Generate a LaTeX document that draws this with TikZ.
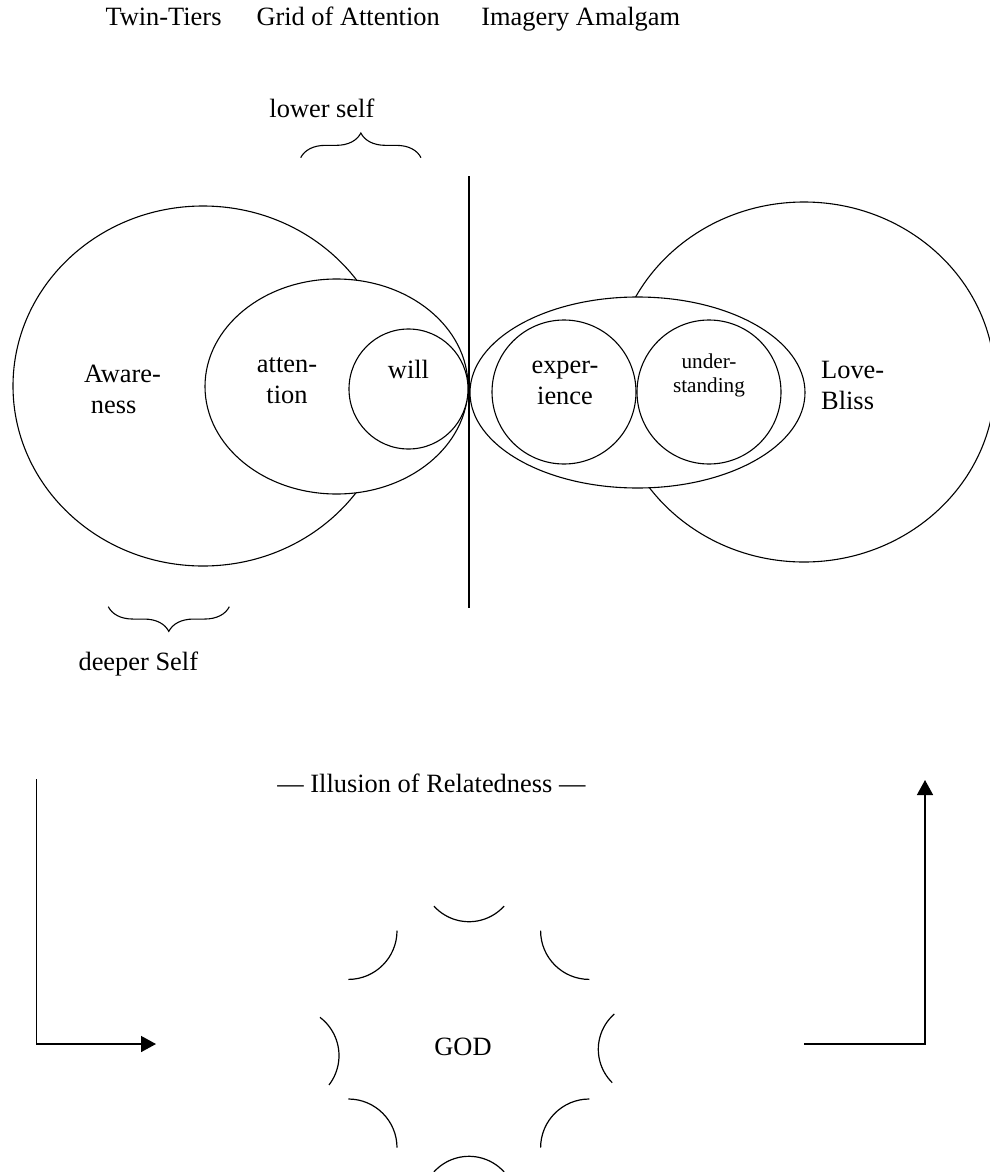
\documentclass[tikz,border=0pt]{standalone}
\usepackage{fontspec}
\setmainfont{Liberation Serif}
\usetikzlibrary{shapes.geometric,arrows.meta,decorations.pathreplacing}
\begin{document}
\begin{tikzpicture}[x=1pt,y=-1pt,
  ring/.style={ellipse, draw, line width=1.1pt, fill=white, inner sep=0pt},
  bigtxt/.style={font=\fontsize{26.4}{30.2}\selectfont, inner sep=0pt},
  smalltxt/.style={font=\fontsize{21.2}{24}\selectfont, inner sep=0pt},
  godarc/.style={line width=1.2pt},
  arrowline/.style={line width=1.5pt, -{Triangle[length=15pt,width=16pt]}},
  brc/.style={decorate, decoration={brace, amplitude=24.7pt, aspect=0.5}, line width=1.1pt}
]
\useasboundingbox (0,0) rectangle (989,1172);

% titles
\node[bigtxt, anchor=base west] (t1) at (105.3,26) {Twin-Tiers};
\node[bigtxt, anchor=base west] (t2) at (256.3,26) {Grid of Attention};
\node[bigtxt, anchor=base west] (t3) at (481.2,26) {Imagery Amalgam};

% left group
\node[ring, minimum width=380pt, minimum height=360pt] (aware) at (203,386) {};
\node[ring, minimum width=263pt, minimum height=215pt] (attn) at (336.5,386.5) {};
\node[ring, minimum width=119pt, minimum height=120pt] (will) at (408.5,389) {};

% right group
\node[ring, minimum width=382pt, minimum height=360pt] (love) at (804,382) {};
\node[ring, minimum width=335pt, minimum height=191pt] (amalg) at (637.5,392.5) {};
\node[ring, minimum width=144pt, minimum height=144pt] (exper) at (564,392) {};
\node[ring, minimum width=144pt, minimum height=144pt] (under) at (709,392) {};

% dividing line
\coordinate (vtop) at (469,176);
\coordinate (vbot) at (469,608);
\draw[line width=1.3pt] (vtop) -- (vbot);

% labels
\node[bigtxt, anchor=base west, align=left] (awaretxt) at (84,413) {Aware-\\\hspace*{6.7pt}ness};
\node[bigtxt, anchor=base, align=center] (attntxt) at (287,403) {atten-\\tion};
\node[bigtxt, anchor=base] (willtxt) at (408.5,378) {will};
\node[bigtxt, anchor=base, align=center] (expertxt) at (565,404) {exper-\\ience};
\node[smalltxt, anchor=base, align=center] (undertxt) at (709,392) {under-\\standing};
\node[bigtxt, anchor=base west, align=left] (lovetxt) at (821,409) {Love-\\Bliss};

% braces
\node[bigtxt, anchor=base] (lower) at (321.9,117.3) {lower self};
\coordinate (lsA) at (300.7,157.7);
\coordinate (lsB) at (421,157.7);
\draw[brc] (lsA) -- (lsB);
\coordinate (dsA) at (229.3,606.7);
\coordinate (dsB) at (108.3,606.7);
\draw[brc] (dsA) -- (dsB);
\node[bigtxt, anchor=base] (deeper) at (138.3,670) {deeper Self};

% lower part
\node[bigtxt, anchor=base] (illu) at (431.4,792) {— Illusion of Relatedness —};
\node[bigtxt, anchor=base] (god) at (463,1055.7) {GOD};

\coordinate (la1) at (36.7,779.3);
\coordinate (la2) at (36.7,1044);
\coordinate (la3) at (156,1044);
\draw[arrowline] (la1) -- (la2) -- (la3);
\coordinate (ra1) at (804,1044);
\coordinate (ra2) at (925,1044);
\coordinate (ra3) at (925,780);
\draw[arrowline] (ra1) -- (ra2) -- (ra3);

% arcs around GOD
\draw[godarc] (469,874.5) ++(42:47.2) arc[start angle=42, end angle=138, radius=47.2];
\draw[godarc] (348.3,930.7) ++(0:48.7) arc[start angle=0, end angle=90, radius=48.7];
\draw[godarc] (589.3,930.7) ++(90:48.7) arc[start angle=90, end angle=180, radius=48.7];
\draw[godarc] (291,1055.6) ++(-52.9:48) arc[start angle=-52.9, end angle=37.7, radius=48];
\draw[godarc] (645.2,1049.3) ++(134.6:46.9) arc[start angle=134.6, end angle=228.8, radius=46.9];
\draw[godarc] (348.3,1147.7) ++(270:48.7) arc[start angle=270, end angle=360, radius=48.7];
\draw[godarc] (589.3,1147.7) ++(180:48.7) arc[start angle=180, end angle=270, radius=48.7];
\draw[godarc] (469,1203.5) ++(222:47.2) arc[start angle=222, end angle=318, radius=47.2];
\end{tikzpicture}
\end{document}
